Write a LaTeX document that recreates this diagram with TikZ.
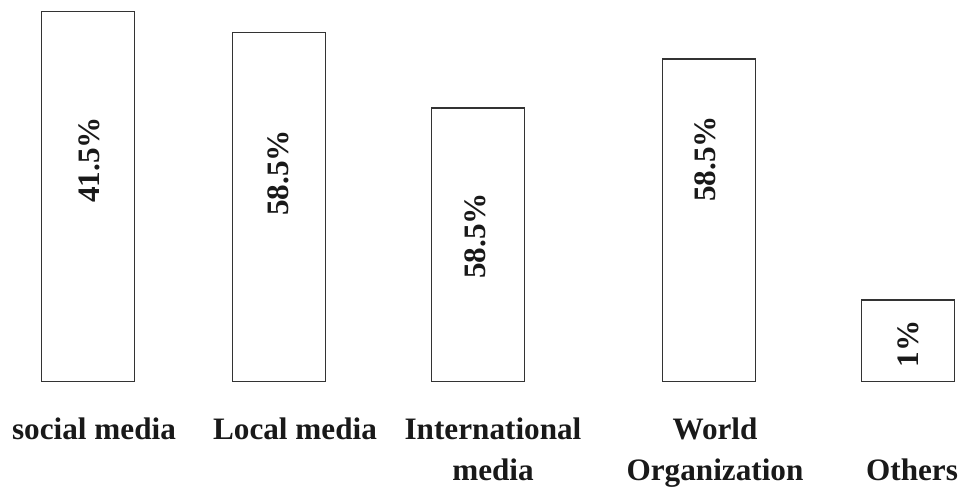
\documentclass[tikz,border=0pt]{standalone}
\usepackage{fontspec}
\setmainfont{Liberation Serif}
\begin{document}
\begin{tikzpicture}[x=0.75pt, y=-0.75pt,
    bar/.style={draw=black!80, line width=0.9pt},
    pct/.style={rotate=90, inner sep=0pt, text=black!90,
        font=\fontsize{23.4}{28}\selectfont\bfseries},
    cat/.style={anchor=base, align=center, inner sep=0pt, text=black!90,
        font=\fontsize{23.4}{30.75}\selectfont\bfseries}]
    \useasboundingbox (0, 0) rectangle (962, 487);

    % bars: left/right/top, bottom line is shared
    \foreach \l/\r/\t in {41.5/134.5/11.7, 232.7/325.7/32.5, 431.7/524.3/108,
                          662.7/755.7/59, 861.3/954.3/300}
        \draw[bar] (\l, 381.5) rectangle (\r, \t);

    % values inside the bars
    \node[pct] (pctsocial) at (89, 160) {41.5\%};
    \node[pct] (pctlocal)  at (278, 173) {58.5\%};
    \node[pct] (pctintl)   at (475, 236) {58.5\%};
    \node[pct] (pctworld)  at (705, 159) {58.5\%};
    \node[pct] (pctothers) at (908.5, 344) {1\%};

    % category names (base anchor sits on the last line)
    \node[cat] (social) at (94, 439) {social media};
    \node[cat] (local)  at (295, 439) {Local media};
    \node[cat] (intl)   at (493, 480) {International\\media};
    \node[cat] (world)  at (715, 480) {World\\Organization};
    \node[cat] (others) at (912, 480) {Others};
\end{tikzpicture}
\end{document}
